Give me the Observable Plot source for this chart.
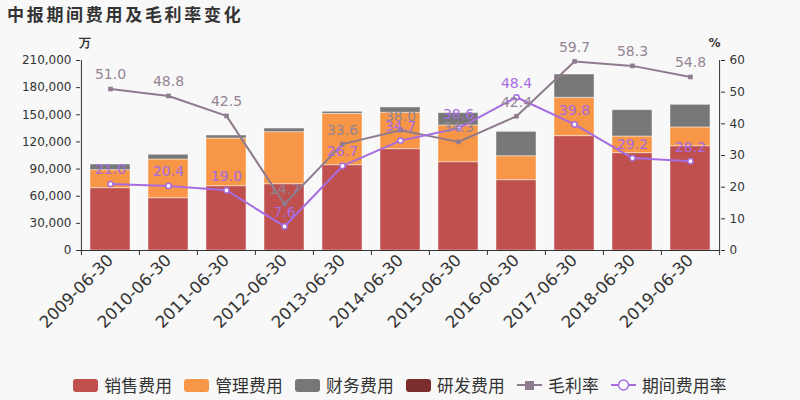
<!DOCTYPE html>
<html><head><meta charset="utf-8">
<script src="https://cdn.jsdelivr.net/npm/d3@7"></script>
<script src="https://cdn.jsdelivr.net/npm/@observablehq/plot@0.6"></script>
<style>
body{margin:0;background:#f8f8f8;font-family:"DejaVu Sans","Noto Sans CJK SC",sans-serif;width:800px;height:400px;overflow:hidden}
#title{height:30px;line-height:28px;padding-left:7px;font-size:17px;font-weight:bold;color:#333;letter-spacing:2.7px;font-family:"Noto Sans CJK SC","DejaVu Sans",sans-serif}
#legend{display:flex;justify-content:center;align-items:center;height:30px;font-family:"Noto Sans CJK SC",sans-serif;font-size:16.8px;color:#333;letter-spacing:0.2px}
.it{display:flex;align-items:center;margin:0 6px}
.sw{width:25px;height:13px;border-radius:3px;margin-right:6px}
svg.sym{margin-right:6px}
</style></head><body>
<div id="title">中报期间费用及毛利率变化</div>
<div id="chart"></div>
<div id="legend"></div>
<script>
const dates = ["2009-06-30","2010-06-30","2011-06-30","2012-06-30","2013-06-30","2014-06-30","2015-06-30","2016-06-30","2017-06-30","2018-06-30","2019-06-30"];
const sales = [68900,57800,71100,73300,94300,112000,97600,77700,126400,107600,115300];
const admin = [19900,42800,52700,57500,56700,40200,40600,26500,42400,18400,20700];
const finance = [6200,5200,3300,4000,2300,5900,13600,26900,25700,29100,25000];
const rnd = [0,0,0,0,0,0,0,0,0,0,0];
const grossMargin = [51.0,48.8,42.5,14.7,33.6,38.0,34.3,42.4,59.7,58.3,54.8];
const expenseRate = [21.0,20.4,19.0,7.6,26.7,34.7,38.6,48.4,39.8,29.2,28.2];
const seriesNames = ["销售费用","管理费用","财务费用","研发费用"];
const seriesColors = ["#c0504d","#f79646","#777777","#7b2c2c"];
const leftTicks = [0,30000,60000,90000,120000,150000,180000,210000];
const rightTicks = [0,10,20,30,40,50,60];
const gmColor = "#8e7b8e", erColor = "#a66ce0";

const ratio = 210000/60;
const stack = [];
[sales, admin, finance, rnd].forEach((arr, k) => arr.forEach((v, i) => stack.push({date: dates[i], series: seriesNames[k], value: v})));
const gm = dates.map((d,i)=>({date:d, v:grossMargin[i], y:grossMargin[i]*ratio}));
const er = dates.map((d,i)=>({date:d, v:expenseRate[i], y:expenseRate[i]*ratio}));

const chart = Plot.plot({
  width: 800, height: 340,
  marginLeft: 80, marginRight: 80, marginTop: 30, marginBottom: 120,
  style: {background: "transparent", fontFamily: "DejaVu Sans, sans-serif", color: "#333"},
  x: {domain: dates, paddingInner: 0.31, paddingOuter: 0.155, label: null},
  y: {domain: [0, 210000], label: null},
  color: {domain: seriesNames, range: seriesColors},
  marks: [
    Plot.barY(stack, {x: "date", y: "value", fill: "series", stroke: "#fff", strokeOpacity: 0.45, strokeWidth: 1}),
    Plot.axisY(leftTicks, {anchor: "left", tickFormat: d3.format(","), tickSize: 4, tickPadding: 5, fontSize: 12, label: null, stroke: "#333"}),
    Plot.axisY(rightTicks.map(v => v*ratio), {anchor: "right", tickFormat: d => d3.format("d")(Math.round(d/ratio)), tickSize: 4, tickPadding: 5, fontSize: 12, label: null, stroke: "#333"}),
    Plot.ruleX([dates[0]], {x: d=>d, dx: -640/22, y1: 0, y2: 210000, stroke: "#333"}),
    Plot.ruleX([dates[dates.length-1]], {x: d=>d, dx: 640/22, y1: 0, y2: 210000, stroke: "#333"}),
    Plot.axisX({anchor: "bottom", tickSize: 5, text: null, dx: -640/22, stroke: "#333"}),
    Plot.axisX([dates[dates.length-1]], {anchor: "bottom", tickSize: 5, text: null, dx: 640/22, stroke: "#333"}),
    Plot.axisX({anchor: "bottom", tickSize: 0, tickRotate: -45, fontSize: 16.5, tickPadding: 7, label: null, fill: "#333"}),
    Plot.ruleY([0], {stroke: "#333", strokeWidth: 1.2}),
    Plot.line(gm, {x: "date", y: "y", stroke: gmColor, strokeWidth: 2}),
    Plot.dot(gm, {x: "date", y: "y", symbol: "square", r: 2.6, fill: gmColor}),
    Plot.line(er, {x: "date", y: "y", stroke: erColor, strokeWidth: 2}),
    Plot.dot(er, {x: "date", y: "y", r: 2.6, fill: "#fff", stroke: erColor, strokeWidth: 1.5}),
    Plot.text(gm, {x: "date", y: "y", text: d => d.v.toFixed(1), dy: -14, fill: "#948494", fontSize: 14}),
    Plot.text(er, {x: "date", y: "y", text: d => d.v.toFixed(1), dy: -14, fill: erColor, fontSize: 14}),
    Plot.text(["万"], {frameAnchor: "top-left", dx: -2, dy: -22, text: d=>d, fontSize: 12, fontWeight: "bold", fill: "#333"}),
    Plot.text(["%"], {frameAnchor: "top-right", dx: 0, dy: -22, text: d=>d, fontSize: 12, fontWeight: "bold", fill: "#333"})
  ]
});
document.getElementById("chart").appendChild(chart);

const lg = document.getElementById("legend");
seriesNames.forEach((n,i)=>{
  const it = document.createElement("div"); it.className="it";
  it.innerHTML = `<div class="sw" style="background:${seriesColors[i]}"></div><span>${n}</span>`;
  lg.appendChild(it);
});
const it1 = document.createElement("div"); it1.className="it";
it1.innerHTML = `<svg class="sym" width="25" height="14"><line x1="0" y1="7" x2="25" y2="7" stroke="${gmColor}" stroke-width="2"/><rect x="8" y="3" width="9" height="9" fill="${gmColor}"/></svg><span>毛利率</span>`;
lg.appendChild(it1);
const it2 = document.createElement("div"); it2.className="it";
it2.innerHTML = `<svg class="sym" width="25" height="14"><line x1="0" y1="7" x2="25" y2="7" stroke="${erColor}" stroke-width="2"/><circle cx="12.5" cy="7" r="5" fill="#fff" stroke="${erColor}" stroke-width="1.5"/></svg><span>期间费用率</span>`;
lg.appendChild(it2);
</script>
</body></html>
